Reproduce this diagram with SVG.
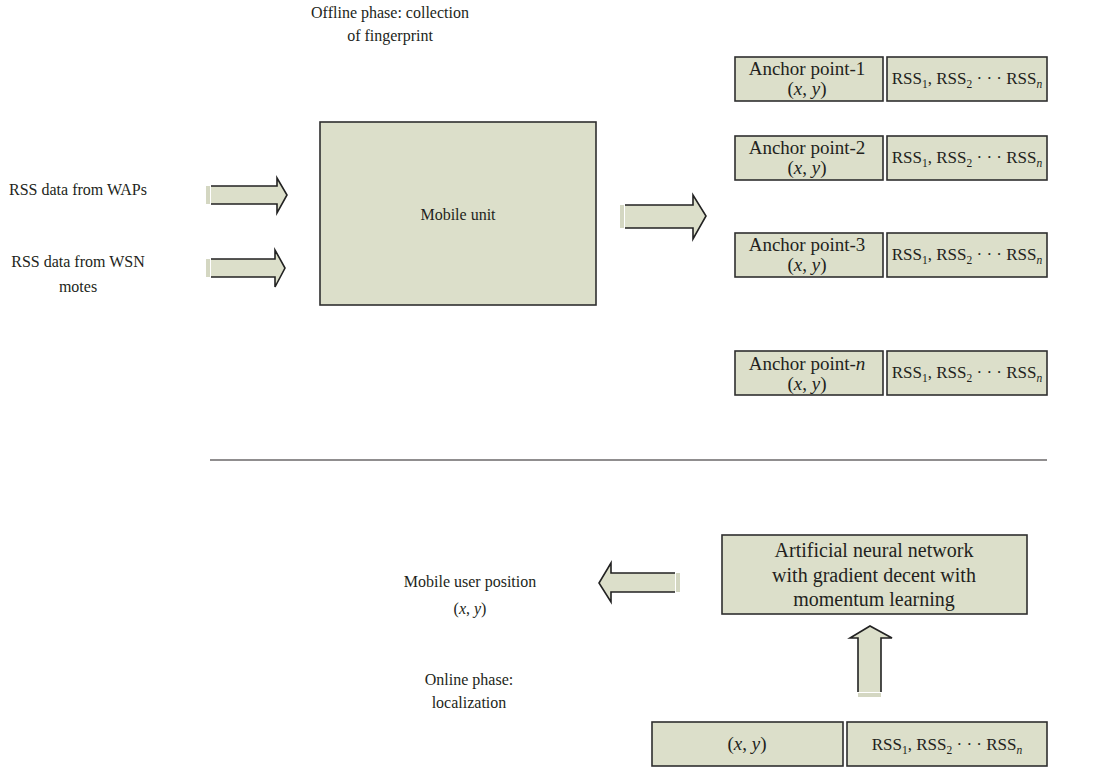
<svg xmlns="http://www.w3.org/2000/svg" width="1100" height="771" viewBox="0 0 1100 771">
<defs>
<style>
.box{fill:#dcdfca;stroke:#2f2f2f;stroke-width:1.6}
.af{fill:#dcdfca;stroke:none}
.as{fill:none;stroke:#222;stroke-width:1.6;stroke-linejoin:miter}
.tail{fill:#d4d7c2}
text{font-family:"Liberation Serif","Times New Roman",serif;font-size:16px;fill:#231f20}
.c{text-anchor:middle}
.anc{font-size:19px}
.rss{font-size:17px}
.sub{font-size:11.5px}
.ann{font-size:20px}
</style>
</defs>
<rect width="1100" height="771" fill="#fff"/>

<g id="labels">
<text class="c" x="390" y="18">Offline phase: collection</text>
<text class="c" x="390" y="41">of fingerprint</text>
<text class="c" x="78" y="195">RSS data from WAPs</text>
<text class="c" x="78" y="267">RSS data from WSN</text>
<text class="c" x="78" y="292">motes</text>
<text class="c" x="470" y="587">Mobile user position</text>
<text class="c" x="470" y="614" font-size="17">(<tspan font-style="italic">x</tspan>, <tspan font-style="italic">y</tspan>)</text>
<text class="c" x="469" y="685">Online phase:</text>
<text class="c" x="469" y="708">localization</text>
</g>

<g id="mobile-unit">
<rect class="box" x="320" y="122" width="276" height="183"/>
<text class="c" x="458" y="220">Mobile unit</text>
</g>

<g id="anchor-1">
<rect class="box" x="735" y="57" width="148" height="44"/>
<text class="c anc" x="807" y="75">Anchor point-1</text>
<text class="c anc" x="807" y="95">(<tspan font-style="italic">x</tspan>, <tspan font-style="italic">y</tspan>)</text>
<rect class="box" x="887" y="57" width="160" height="44"/>
<text class="c rss" x="967" y="84">RSS<tspan class="sub" dy="4">1</tspan><tspan dy="-4">, RSS</tspan><tspan class="sub" dy="4">2</tspan><tspan dy="-4"> · · · RSS</tspan><tspan class="sub" dy="4" font-style="italic">n</tspan></text>
</g>

<g id="anchor-2">
<rect class="box" x="735" y="136" width="148" height="44"/>
<text class="c anc" x="807" y="154">Anchor point-2</text>
<text class="c anc" x="807" y="174">(<tspan font-style="italic">x</tspan>, <tspan font-style="italic">y</tspan>)</text>
<rect class="box" x="887" y="136" width="160" height="44"/>
<text class="c rss" x="967" y="163">RSS<tspan class="sub" dy="4">1</tspan><tspan dy="-4">, RSS</tspan><tspan class="sub" dy="4">2</tspan><tspan dy="-4"> · · · RSS</tspan><tspan class="sub" dy="4" font-style="italic">n</tspan></text>
</g>

<g id="anchor-3">
<rect class="box" x="735" y="233" width="148" height="44"/>
<text class="c anc" x="807" y="251">Anchor point-3</text>
<text class="c anc" x="807" y="271">(<tspan font-style="italic">x</tspan>, <tspan font-style="italic">y</tspan>)</text>
<rect class="box" x="887" y="233" width="160" height="44"/>
<text class="c rss" x="967" y="260">RSS<tspan class="sub" dy="4">1</tspan><tspan dy="-4">, RSS</tspan><tspan class="sub" dy="4">2</tspan><tspan dy="-4"> · · · RSS</tspan><tspan class="sub" dy="4" font-style="italic">n</tspan></text>
</g>

<g id="anchor-n">
<rect class="box" x="735" y="351" width="148" height="44"/>
<text class="c anc" x="807" y="370">Anchor point-<tspan font-style="italic">n</tspan></text>
<text class="c anc" x="807" y="390">(<tspan font-style="italic">x</tspan>, <tspan font-style="italic">y</tspan>)</text>
<rect class="box" x="887" y="351" width="160" height="44"/>
<text class="c rss" x="967" y="378">RSS<tspan class="sub" dy="4">1</tspan><tspan dy="-4">, RSS</tspan><tspan class="sub" dy="4">2</tspan><tspan dy="-4"> · · · RSS</tspan><tspan class="sub" dy="4" font-style="italic">n</tspan></text>
</g>

<g id="ann">
<rect class="box" x="722" y="535" width="305" height="79"/>
<text class="c ann" x="874" y="557">Artificial neural network</text>
<text class="c ann" x="874" y="582">with gradient decent with</text>
<text class="c ann" x="874" y="606">momentum learning</text>
</g>

<g id="input-row">
<rect class="box" x="652" y="722" width="191" height="44"/>
<text class="c anc" x="747" y="750">(<tspan font-style="italic">x</tspan>, <tspan font-style="italic">y</tspan>)</text>
<rect class="box" x="847" y="722" width="200" height="44"/>
<text class="c rss" x="947" y="750">RSS<tspan class="sub" dy="4">1</tspan><tspan dy="-4">, RSS</tspan><tspan class="sub" dy="4">2</tspan><tspan dy="-4"> · · · RSS</tspan><tspan class="sub" dy="4" font-style="italic">n</tspan></text>
</g>

<g id="connectors">
<line x1="210" y1="460" x2="1047" y2="460" stroke="#231f20" stroke-width="1.2"/>
<rect class="tail" x="206" y="186" width="4" height="18"/>
<polygon class="af" points="211,186 277,186 277,178 287,195 277,213 277,204 211,204"/>
<polyline class="as" points="211,186 277,186 277,178 287,195 277,213 277,204 211,204"/>
<rect class="tail" x="206" y="259" width="4" height="18"/>
<polygon class="af" points="211,259 275,259 275,250 285,268 275,287 275,277 211,277"/>
<polyline class="as" points="211,259 275,259 275,250 285,268 275,287 275,277 211,277"/>
<rect class="tail" x="620" y="205" width="4" height="23"/>
<polygon class="af" points="625,205 693,205 693,195 706,216 693,239 693,228 625,228"/>
<polyline class="as" points="625,205 693,205 693,195 706,216 693,239 693,228 625,228"/>
<rect class="tail" x="676" y="573" width="4" height="19"/>
<polygon class="af" points="675,573 611,573 611,563 599,583 611,602 611,592 675,592"/>
<polyline class="as" points="675,573 611,573 611,563 599,583 611,602 611,592 675,592"/>
<rect class="tail" x="858" y="693" width="23" height="4"/>
<polygon class="af" points="858,692 858,638 850,638 870,626 892,638 881,638 881,692"/>
<polyline class="as" points="858,692 858,638 850,638 870,626 892,638 881,638 881,692"/>
</g>
</svg>
